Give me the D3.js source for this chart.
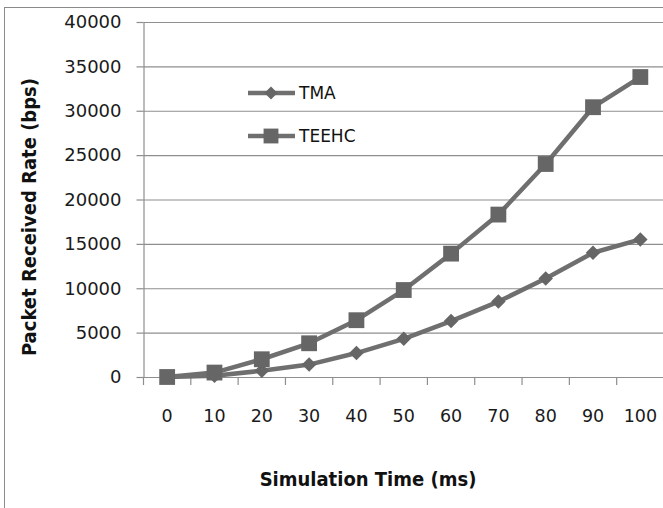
<!DOCTYPE html>
<html>
<head>
<meta charset="utf-8">
<script src="https://cdn.jsdelivr.net/npm/d3@7"></script>
<style>
  body { margin: 0; background: #fff; }
  svg { display: block; }
</style>
</head>
<body>
<div id="container"></div>
<script>
// Chart data
var times = ['0', '10', '20', '30', '40', '50', '60', '70', '80', '90', '100'];
var tmaValues = [0, 150, 700, 1400, 2700, 4300, 6300, 8500, 11100, 14000, 15500];
var teehcValues = [0, 500, 2000, 3800, 6400, 9800, 13900, 18300, 24000, 30400, 33800];
var yTicks = [0, 5000, 10000, 15000, 20000, 25000, 30000, 35000, 40000];
var seriesNames = ['TMA', 'TEEHC'];

// Plot constants
var width = 663,
height = 508,
plotLeft = 143.5,
plotRight = 664,
plotTop = 22,
plotBottom = 377;

var lineColour = '#6f6f6f',
markerColour = '#666666',
gridColour = '#8e8e8e';

var svg = d3.select('#container').append('svg').attr('width', width).attr('height', height);

// outer chart border (cut off at right / bottom)
svg.append('rect')
  .attr('x', 4.5).attr('y', 7.5)
  .attr('width', 700).attr('height', 600)
  .attr('fill', 'none').attr('stroke', '#8a8a8a').attr('stroke-width', 1);

var x = d3.scaleBand().domain(times).range([plotLeft, plotRight]);
var y = d3.scaleLinear().domain([0, 40000]).range([plotBottom, plotTop]);

// horizontal gridlines
svg.append('g')
  .attr('transform', 'translate(' + plotLeft + ',0)')
  .call(d3.axisLeft(y).tickValues(yTicks).tickSize(-(plotRight - plotLeft)).tickFormat(''))
  .call(g => g.select('.domain').remove())
  .call(g => g.selectAll('line').attr('stroke', gridColour).attr('stroke-width', 1.2));

// y axis
svg.append('g')
  .attr('transform', 'translate(' + plotLeft + ',0)')
  .call(d3.axisLeft(y).tickValues(yTicks).tickSize(7).tickPadding(15).tickSizeOuter(0).tickFormat(d3.format('d')))
  .call(g => g.select('.domain').attr('stroke', gridColour).attr('stroke-width', 1.2))
  .call(g => g.selectAll('line').attr('stroke', gridColour).attr('stroke-width', 1.2))
  .call(g => g.selectAll('text').attr('font-family', 'DejaVu Sans').attr('font-size', 18).attr('fill', '#1a1a1a'));

// x axis: labels at band centres, ticks at band edges
svg.append('g')
  .attr('transform', 'translate(0,' + plotBottom + ')')
  .call(d3.axisBottom(x).tickSize(0).tickPadding(33).tickSizeOuter(0))
  .call(g => g.select('.domain').attr('stroke', gridColour).attr('stroke-width', 1.2))
  .call(g => g.selectAll('text').attr('font-family', 'DejaVu Sans').attr('font-size', 17.5).attr('fill', '#1a1a1a'));

svg.append('g')
  .selectAll('line')
  .data(times)
  .enter()
  .append('line')
  .attr('x1', d => x(d)).attr('x2', d => x(d))
  .attr('y1', plotBottom).attr('y2', plotBottom + 8)
  .attr('stroke', gridColour).attr('stroke-width', 1.2);

// axis titles
svg.append('text')
  .attr('x', 368).attr('y', 479)
  .attr('text-anchor', 'middle').attr('dominant-baseline', 'central')
  .attr('font-family', 'DejaVu Sans Condensed, DejaVu Sans, sans-serif')
  .attr('font-weight', 'bold').attr('font-size', 20).attr('fill', '#111')
  .text('Simulation Time (ms)');

svg.append('text')
  .attr('transform', 'translate(29,217) rotate(-90)')
  .attr('text-anchor', 'middle').attr('dominant-baseline', 'central')
  .attr('font-family', 'DejaVu Sans Condensed, DejaVu Sans, sans-serif')
  .attr('font-weight', 'bold').attr('font-size', 20).attr('fill', '#111')
  .text('Packet Received Rate (bps)');

// series
var line = d3.line()
  .x((d, i) => x(times[i]) + x.bandwidth() / 2)
  .y(d => y(d));

// diamond = square turned 45 degrees
var diamond = d3.symbol().type(d3.symbolSquare).size(105);
var square = d3.symbol().type(d3.symbolSquare).size(250);

[tmaValues, teehcValues].forEach(function (values, k) {
  svg.append('path')
    .datum(values)
    .attr('fill', 'none')
    .attr('stroke', lineColour)
    .attr('stroke-width', 4.5)
    .attr('stroke-linejoin', 'round')
    .attr('d', line);

  svg.append('g')
    .selectAll('path')
    .data(values)
    .enter()
    .append('path')
    .attr('transform', (d, i) => 'translate(' + (x(times[i]) + x.bandwidth() / 2) + ',' + y(d) + ')' + (k === 0 ? ' rotate(45)' : ''))
    .attr('d', k === 0 ? diamond : square)
    .attr('fill', markerColour);
});

// legend
var legend = svg.append('g').attr('id', 'legend');
seriesNames.forEach(function (name, k) {
  var ly = 93 + k * 43;
  legend.append('line')
    .attr('x1', 248).attr('x2', 295).attr('y1', ly).attr('y2', ly)
    .attr('stroke', lineColour).attr('stroke-width', 4.5);
  legend.append('path')
    .attr('transform', 'translate(271,' + ly + ')' + (k === 0 ? ' rotate(45)' : ''))
    .attr('d', d3.symbol().type(d3.symbolSquare).size(k === 0 ? 85 : 220))
    .attr('fill', markerColour);
  legend.append('text')
    .attr('x', 299).attr('y', ly)
    .attr('dominant-baseline', 'central')
    .attr('font-family', 'DejaVu Sans').attr('font-size', 17).attr('fill', '#111')
    .text(name);
});
</script>
</body>
</html>
